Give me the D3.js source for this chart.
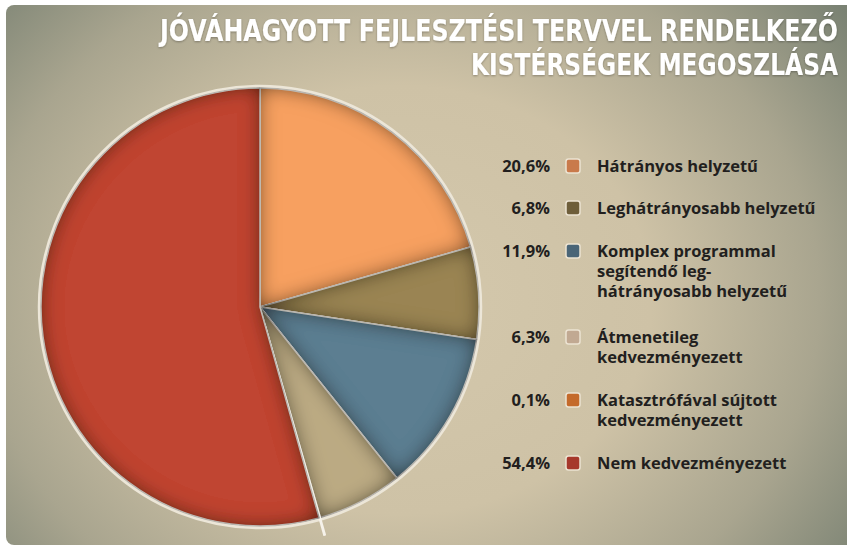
<!DOCTYPE html>
<html>
<head>
<meta charset="utf-8">
<script src="https://cdn.jsdelivr.net/npm/d3@7"></script>
<style>
  body { margin: 0; background: #fff; }
  svg { display: block; }
</style>
</head>
<body>
<svg id="chart"></svg>
<script>
// chart data
var categories = ["Hátrányos helyzetű", "Leghátrányosabb helyzetű", "Komplex programmal segítendő leghátrányosabb helyzetű", "Átmenetileg kedvezményezett", "Katasztrófával sújtott kedvezményezett", "Nem kedvezményezett"];
var values = [20.6, 6.8, 11.9, 6.3, 0.1, 54.4];
var valueLabels = ["20,6%", "6,8%", "11,9%", "6,3%", "0,1%", "54,4%"];
// legend text, already broken into lines as in the original
var legendLines = [
  ["Hátrányos helyzetű"],
  ["Leghátrányosabb helyzetű"],
  ["Komplex programmal", "segítendő leg-", "hátrányosabb helyzetű"],
  ["Átmenetileg", "kedvezményezett"],
  ["Katasztrófával sújtott", "kedvezményezett"],
  ["Nem kedvezményezett"]
];
var titleLines = ["JÓVÁHAGYOTT FEJLESZTÉSI TERVVEL RENDELKEZŐ", "KISTÉRSÉGEK MEGOSZLÁSA"];

var sliceColors = ["#f7a060", "#9a8452", "#5c7e91", "#bbaa83", "#e8893e", "#c04531"];
var swatchColors = ["#c97a4b", "#6e5e3a", "#4a6577", "#c1a992", "#c46a2b", "#a6382b"];

var width = 847, height = 547;
var svg = d3.select("#chart").attr("width", width).attr("height", height);
var defs = svg.append("defs");

// background gradient
var bg = defs.append("radialGradient")
  .attr("id", "bg")
  .attr("gradientUnits", "userSpaceOnUse")
  .attr("cx", 400).attr("cy", 300).attr("r", 560)
  .attr("gradientTransform", "translate(400,300) scale(1,0.85) translate(-400,-300)");
bg.append("stop").attr("offset", 0).attr("stop-color", "#d4c8ac");
bg.append("stop").attr("offset", 0.45).attr("stop-color", "#cec2a6");
bg.append("stop").attr("offset", 0.75).attr("stop-color", "#a9a58f");
bg.append("stop").attr("offset", 1).attr("stop-color", "#7a8273");

svg.append("rect")
  .attr("x", 6).attr("y", 5)
  .attr("width", 860).attr("height", 540)
  .attr("rx", 8)
  .attr("fill", "url(#bg)");

// inner shadow for slices
var inner = defs.append("filter").attr("id", "inner")
  .attr("x", "-20%").attr("y", "-20%").attr("width", "140%").attr("height", "140%");
inner.append("feFlood").attr("flood-color", "#1a1208").attr("flood-opacity", 1);
inner.append("feComposite").attr("in2", "SourceAlpha").attr("operator", "out");
inner.append("feGaussianBlur").attr("stdDeviation", 10).attr("result", "sh");
inner.append("feComposite").attr("in", "sh").attr("in2", "SourceAlpha").attr("operator", "in").attr("result", "shin");
var merge = inner.append("feMerge");
merge.append("feMergeNode").attr("in", "SourceGraphic");
merge.append("feMergeNode").attr("in", "shin");

var title = defs.append("filter").attr("id", "tshadow");
title.append("feDropShadow").attr("dx", 0).attr("dy", 1).attr("stdDeviation", 1)
  .attr("flood-color", "#000").attr("flood-opacity", 0.3);

// pie
var cx = 260, cy = 307, radius = 219;
var pie = d3.pie().sort(null).value(function(d) { return d; });
var arc = d3.arc().innerRadius(0).outerRadius(radius);
var arcs = pie(values);

var g = svg.append("g").attr("transform", "translate(" + cx + "," + cy + ")");

// light rim round the pie
g.append("circle")
  .attr("r", radius + 1.5)
  .attr("fill", "none")
  .attr("stroke", "#ece6d8")
  .attr("stroke-width", 3.5);

g.selectAll("path.slice")
  .data(arcs)
  .enter()
  .append("path")
  .attr("class", "slice")
  .attr("transform", function(d, i) {
    // the tiny slice is pulled out a bit
    if (d.value < 1) {
      var a = (d.startAngle + d.endAngle) / 2;
      return "translate(" + (Math.sin(a) * 18) + "," + (-Math.cos(a) * 18) + ")";
    }
    return null;
  })
  .attr("d", arc)
  .attr("fill", function(d, i) { return sliceColors[i]; })
  .attr("filter", function(d) { return d.value < 1 ? null : "url(#inner)"; })
  .attr("stroke", "#f6f2ea")
  .attr("stroke-width", 1.5)
  .attr("stroke-linejoin", "round");

// title
svg.append("g")
  .selectAll("text")
  .data(titleLines)
  .enter()
  .append("text")
  .attr("x", 838)
  .attr("y", function(d, i) { return 41 + i * 34; })
  .attr("text-anchor", "end")
  .attr("fill", "#fff")
  .attr("font-family", "'DejaVu Sans Condensed', 'DejaVu Sans'")
  .attr("font-stretch", "condensed")
  .attr("font-weight", "bold")
  .attr("font-size", 31)
  .attr("filter", "url(#tshadow)")
  .attr("textLength", function(d, i) { return i == 0 ? 678 : 367; })
  .attr("lengthAdjust", "spacingAndGlyphs")
  .text(function(d) { return d; });

// legend
var rowY = [172, 214, 257, 343, 406, 469];
var legend = svg.append("g")
  .attr("font-family", "'Open Sans', sans-serif")
  .attr("font-weight", "bold")
  .attr("font-size", 16.5)
  .attr("fill", "#221f1e");

var rows = legend.selectAll("g.row")
  .data(categories)
  .enter()
  .append("g")
  .attr("class", "row")
  .attr("transform", function(d, i) { return "translate(0," + rowY[i] + ")"; });

rows.append("text")
  .attr("x", 550)
  .attr("text-anchor", "end")
  .text(function(d, i) { return valueLabels[i]; });

rows.append("rect")
  .attr("x", 566).attr("y", -13)
  .attr("width", 14).attr("height", 14)
  .attr("rx", 2.5)
  .attr("fill", function(d, i) { return swatchColors[i]; })
  .attr("stroke", "#ece3d2")
  .attr("stroke-width", 1.5);

rows.selectAll("text.line")
  .data(function(d, i) { return legendLines[i]; })
  .enter()
  .append("text")
  .attr("class", "line")
  .attr("x", 597)
  .attr("y", function(d, j) { return j * 20; })
  .text(function(d) { return d; });
</script>
</body>
</html>
